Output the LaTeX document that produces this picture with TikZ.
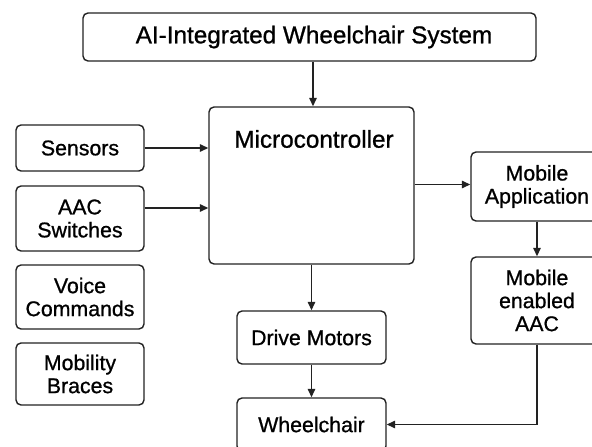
\documentclass[tikz,border=0pt]{standalone}
\usepackage{fontspec}
\setmainfont{Liberation Sans}[FakeBold=0.9]
\usetikzlibrary{arrows.meta}
\definecolor{ink}{HTML}{222222}
\tikzset{
  box/.style={draw=ink, line width=1.4pt, rounded corners=5pt, align=center, inner sep=0pt,
              font=\fontsize{21.3}{23}\selectfont, text=black},
  big/.style={font=\fontsize{24.3}{26}\selectfont, text=black, inner sep=0pt},
  arr/.style={draw=ink, line width=1.4pt, -{Triangle[length=8.5pt,width=7.5pt]}}
}
\begin{document}
\begin{tikzpicture}[x=1pt,y=-1pt]
\useasboundingbox (0,0) rectangle (592,447);
\clip (0,0) rectangle (592,447);
\fill[white] (0,0) rectangle (592,447);
% nodes
\node[box, minimum width=453pt, minimum height=48pt] (title) at (309.5,37) {};
\node[big] (titlet) at (314,37) {AI-Integrated Wheelchair System};
\node[box, minimum width=205pt, minimum height=157pt] (mc) at (311.5,185.5) {};
\node[big] (mct) at (314,139) {Microcontroller};
\node[box, minimum width=128pt, minimum height=46pt] (sens) at (80,148) {Sensors};
\node[box, minimum width=128pt, minimum height=65pt] (aac) at (80,218.5) {AAC\\Switches};
\node[box, minimum width=128pt, minimum height=64pt] (voice) at (80,297) {Voice\\Commands};
\node[box, minimum width=128pt, minimum height=62pt] (mob) at (80,374) {Mobility\\Braces};
\node[box, minimum width=132pt, minimum height=69pt] (app) at (537,186.5) {Mobile\\Application};
\node[box, minimum width=132pt, minimum height=87pt] (maac) at (537,300.5) {Mobile\\enabled\\AAC};
\node[box, minimum width=149pt, minimum height=53pt] (drive) at (311.5,337.5) {Drive Motors};
\node[box, minimum width=149pt, minimum height=53pt] (wheel) at (311.5,424.5) {Wheelchair};
% connectors
\draw[arr] ([xshift=3.5pt]title.south) -- ([xshift=3.5pt]title.south |- mc.north);
\draw[arr] (sens.east) -- (sens.east -| mc.west);
\draw[arr] ([yshift=10.5pt]aac.east) -- ([yshift=10.5pt]aac.east -| mc.west);
\draw[arr] ([yshift=2pt]app.west -| mc.east) -- ([yshift=2pt]app.west);
\draw[arr] (app.south) -- (maac.north);
\draw[arr] (mc.south) -- (drive.north);
\draw[arr] (drive.south) -- (wheel.north);
\draw[arr] (maac.south) |- (wheel.east);
\end{tikzpicture}
\end{document}
